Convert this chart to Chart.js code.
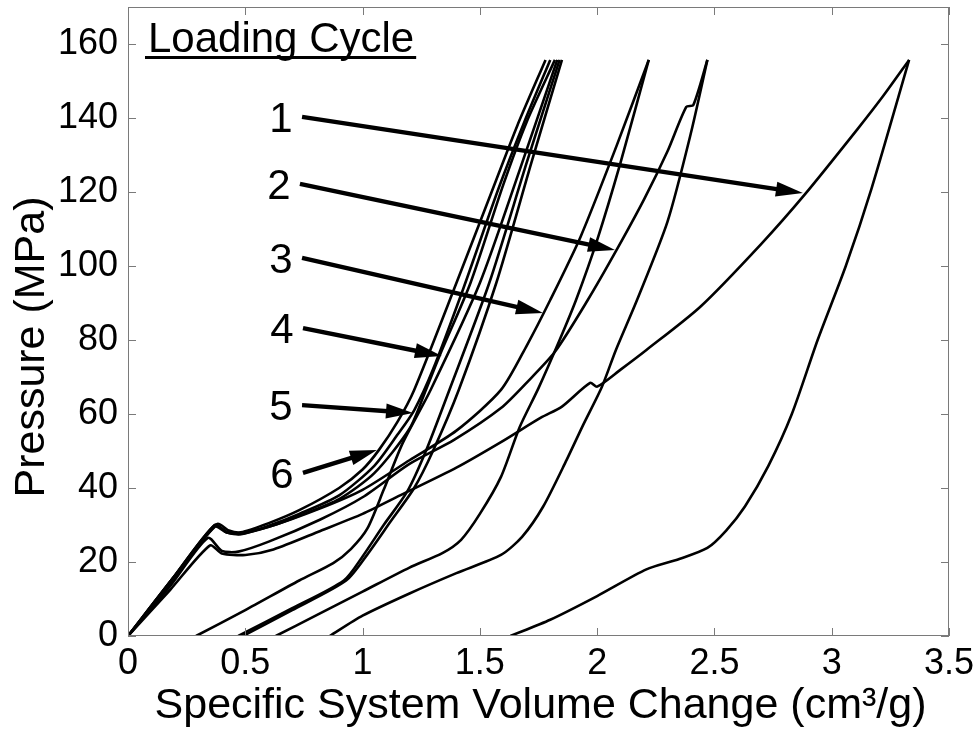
<!DOCTYPE html>
<html>
<head>
<meta charset="utf-8">
<title>Loading cycles</title>
<script src="https://cdn.jsdelivr.net/npm/chart.js@4.4.1/dist/chart.umd.min.js"></script>
<style>
  html, body { margin: 0; padding: 0; background: #fff; }
  #pv-chart { display: block; }
</style>
</head>
<body>
<canvas id="pv-chart" width="980" height="733"></canvas>
<script>
// axis ticks
const xTicks = [0, 0.5, 1, 1.5, 2, 2.5, 3, 3.5];
const yTicks = [0, 20, 40, 60, 80, 100, 120, 140, 160];

// cycle 1
const load1V = [0, 0.18, 0.35, 0.40, 0.50, 0.62, 0.82, 1.00, 1.16, 1.40, 1.59, 1.76, 1.85, 1.97, 2.00, 2.10, 2.21, 2.44, 2.70, 2.89, 3.11, 3.22, 3.33];
const load1P = [0, 12.5, 24.5, 22.3, 21.9, 23.4, 28.4, 33, 38, 45.5, 52.4, 59, 62, 68.4, 67.4, 72, 77.3, 89, 106, 119.7, 137, 146, 155.7];
const unload1V = [3.33, 3.17, 3.06, 2.94, 2.83, 2.73, 2.63, 2.55, 2.47, 2.35, 2.21, 2.00, 1.80, 1.63];
const unload1P = [155.7, 121, 100, 80, 60, 46, 35, 28.5, 23.8, 20.8, 18, 10.8, 4.4, 0];

// cycle 2
const load2V = [0, 0.18, 0.34, 0.40, 0.47, 0.60, 0.82, 1.00, 1.20, 1.39, 1.59, 1.70, 1.82, 1.96, 2.08, 2.20, 2.30, 2.38, 2.41, 2.47];
const load2P = [0, 13.5, 26.5, 23, 22.8, 25.5, 31.5, 37.5, 46.5, 53, 61.6, 68.5, 76.8, 90.8, 104, 118, 131, 143, 143.5, 155.7];
const unload2V = [2.47, 2.40, 2.30, 2.17, 2.08, 2.02, 1.94, 1.87, 1.77, 1.68, 1.59, 1.40, 1.20, 1.00, 0.86];
const unload2P = [155.7, 136, 112, 90.8, 77.3, 67.3, 57, 47.6, 35, 26.8, 21.9, 17, 11.5, 5.5, 0];

// cycle 3
const load3V = [0, 0.19, 0.37, 0.42, 0.47, 0.60, 0.82, 1.00, 1.20, 1.40, 1.59, 1.70, 1.80, 1.93, 2.08, 2.22];
const load3P = [0, 15, 29.5, 28, 27.8, 29.5, 34.5, 39.5, 47.5, 55.5, 66.5, 78.5, 90.8, 108, 132, 155.7];
const unload3V = [2.22, 2.10, 2.00, 1.91, 1.84, 1.75, 1.67, 1.59, 1.50, 1.42, 1.34, 1.20, 1.00, 0.80, 0.63];
const unload3P = [155.7, 128, 107, 90.8, 80, 67, 56.5, 43, 33, 26, 22.4, 18.5, 12, 5.5, 0];

// cycle 4
const load4V = [0, 0.19, 0.37, 0.42, 0.48, 0.60, 0.73, 0.90, 1.05, 1.20, 1.27, 1.33, 1.46, 1.60, 1.70, 1.82];
const load4P = [0, 15.5, 30, 28.2, 27.6, 29.5, 32.5, 37, 44, 56, 66.5, 76, 95.4, 122, 139, 155.7];
const unload4V = [1.85, 1.72, 1.57, 1.41, 1.30, 1.22, 1.12, 1.02, 0.93, 0.70, 0.49];
const unload4P = [155.7, 128, 95.4, 66.5, 50, 40, 31, 22, 15, 7, 0];

// cycle 5
const load5V = [0, 0.19, 0.37, 0.42, 0.48, 0.60, 0.73, 0.90, 1.05, 1.15, 1.22, 1.30, 1.43, 1.58, 1.69, 1.80];
const load5P = [0, 15.5, 30, 28, 27.5, 29.8, 33, 38, 46, 54.5, 61, 72, 94, 121, 139, 155.7];
const unload5V = [1.84, 1.70, 1.54, 1.37, 1.27, 1.19, 1.09, 1.00, 0.92, 0.70, 0.47];
const unload5P = [155.7, 128, 95.4, 66.5, 50, 39, 30, 21.5, 15, 7.5, 0];

// cycle 6
const load6V = [0, 0.19, 0.38, 0.43, 0.48, 0.60, 0.73, 0.90, 1.00, 1.07, 1.15, 1.22, 1.40, 1.55, 1.66, 1.78];
const load6P = [0, 15.5, 30.3, 28.5, 28, 30.5, 34, 40, 45, 50.3, 58, 66.5, 95.4, 120, 138, 155.7];
const unload6V = [1.83, 1.67, 1.50, 1.29, 1.17, 1.09, 1.02, 0.95, 0.875, 0.73, 0.50, 0.29];
const unload6P = [155.7, 126, 95.4, 66.5, 52, 39.5, 29, 23.5, 19.7, 15, 7, 0];

// annotation arrows (data coordinates)
const cycleLabels = ['1', '2', '3', '4', '5', '6'];
const arrowTailV = [0.742, 0.733, 0.742, 0.746, 0.742, 0.746];
const arrowTailP = [140.3, 122.2, 102.2, 83.2, 62.4, 44.1];
const arrowTipV = [2.877, 2.076, 1.769, 1.338, 1.215, 1.061];
const arrowTipP = [119.7, 104.3, 87.3, 75.7, 60.3, 50.3];

const FONT = '"Liberation Sans", Arial, Helvetica, sans-serif';

function toPoints(vs, ps) {
  return vs.map((v, i) => ({ x: v, y: ps[i] }));
}

const curves = [
  [load1V, load1P], [unload1V, unload1P],
  [load2V, load2P], [unload2V, unload2P],
  [load3V, load3P], [unload3V, unload3P],
  [load4V, load4P], [unload4V, unload4P],
  [load5V, load5P], [unload5V, unload5P],
  [load6V, load6P], [unload6V, unload6P]
];

// box, inward ticks, titles and the numbered arrows
const notesPlugin = {
  id: 'notes',
  afterDraw(chart) {
    const { ctx, chartArea: a, scales: { x, y } } = chart;
    ctx.save();

    // frame + matlab style ticks
    ctx.strokeStyle = '#7a7a7a';
    ctx.lineWidth = 1;
    ctx.strokeRect(a.left + 0.5, a.top + 0.5, a.right - a.left - 1, a.bottom - a.top - 1);
    ctx.beginPath();
    xTicks.forEach(t => {
      const px = Math.round(x.getPixelForValue(t)) + 0.5;
      ctx.moveTo(px, a.bottom); ctx.lineTo(px, a.bottom - 8);
      ctx.moveTo(px, a.top); ctx.lineTo(px, a.top + 8);
    });
    yTicks.forEach(t => {
      const py = Math.round(y.getPixelForValue(t)) + 0.5;
      ctx.moveTo(a.left, py); ctx.lineTo(a.left + 8, py);
      ctx.moveTo(a.right, py); ctx.lineTo(a.right - 8, py);
    });
    ctx.stroke();

    // axis titles
    ctx.fillStyle = '#000';
    ctx.font = '43px ' + FONT;
    ctx.textAlign = 'center';
    ctx.textBaseline = 'alphabetic';
    ctx.fillText('Specific System Volume Change (cm\u00b3/g)', (a.left + a.right) / 2 + 2, 718);
    ctx.save();
    ctx.translate(44, 347);
    ctx.rotate(-Math.PI / 2);
    ctx.font = '43px ' + FONT;
    ctx.fillText('Pressure (MPa)', 0, 0);
    ctx.restore();

    // "Loading Cycle" header
    ctx.textAlign = 'left';
    ctx.font = '42px ' + FONT;
    const hx = a.left + 20, hy = 52;
    ctx.fillText('Loading Cycle', hx, hy);
    const w = ctx.measureText('Loading Cycle').width;
    ctx.fillRect(hx - 3, hy + 4, w + 5, 3);

    // arrows
    ctx.strokeStyle = '#000';
    ctx.lineWidth = 4.5;
    ctx.textAlign = 'center';
    cycleLabels.forEach((lab, i) => {
      const x0 = x.getPixelForValue(arrowTailV[i]);
      const y0 = y.getPixelForValue(arrowTailP[i]);
      const x1 = x.getPixelForValue(arrowTipV[i]);
      const y1 = y.getPixelForValue(arrowTipP[i]);
      const len = Math.hypot(x1 - x0, y1 - y0);
      const ux = (x1 - x0) / len, uy = (y1 - y0) / len;
      const head = 27, half = 7.5;
      ctx.beginPath();
      ctx.moveTo(x0, y0);
      ctx.lineTo(x1 - ux * head * 0.8, y1 - uy * head * 0.8);
      ctx.stroke();
      ctx.beginPath();
      ctx.moveTo(x1, y1);
      ctx.lineTo(x1 - ux * head - uy * half, y1 - uy * head + ux * half);
      ctx.lineTo(x1 - ux * head + uy * half, y1 - uy * head - ux * half);
      ctx.closePath();
      ctx.fill();
      ctx.fillText(lab, x0 - 21, y0 + 15);
    });
    ctx.restore();
  }
};

const canvas = document.getElementById('pv-chart');
new Chart(canvas.getContext('2d'), {
  type: 'scatter',
  data: {
    datasets: curves.map(([vs, ps]) => ({
      data: toPoints(vs, ps),
      showLine: true,
      borderColor: '#000',
      borderWidth: 2.6,
      pointRadius: 0,
      tension: 0.25,
      fill: false
    }))
  },
  options: {
    responsive: false,
    animation: false,
    layout: { padding: { top: 7, right: 31, left: 0, bottom: 0 } },
    plugins: { legend: { display: false }, tooltip: { enabled: false } },
    scales: {
      x: {
        type: 'linear', min: 0, max: 3.5,
        afterBuildTicks: s => { s.ticks = xTicks.map(v => ({ value: v })); },
        afterFit: s => { s.height = 97; s.paddingLeft = 0; s.paddingRight = 0; },
        grid: { display: false, drawTicks: false },
        border: { display: false },
        ticks: { color: '#000', padding: 6, maxRotation: 0, font: { family: FONT, size: 36 }, callback: v => String(v) }
      },
      y: {
        type: 'linear', min: 0, max: 170,
        afterBuildTicks: s => { s.ticks = yTicks.map(v => ({ value: v })); },
        afterFit: s => { s.width = 128; s.paddingTop = 0; s.paddingBottom = 0; },
        grid: { display: false, drawTicks: false },
        border: { display: false },
        ticks: { color: '#000', padding: 10, font: { family: FONT, size: 36 }, callback: v => String(v) }
      }
    }
  },
  plugins: [notesPlugin]
});
</script>
</body>
</html>
